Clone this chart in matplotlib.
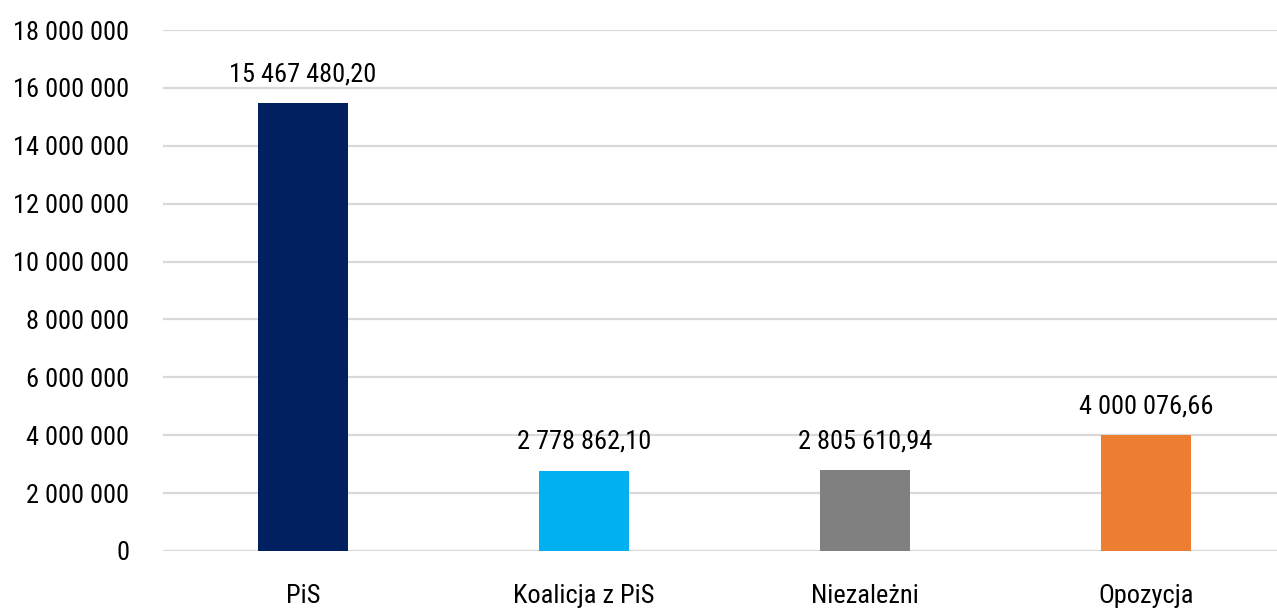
import matplotlib
matplotlib.use("Agg")
import matplotlib.pyplot as plt
from matplotlib import font_manager
from matplotlib.ticker import FuncFormatter

categories = ["PiS", "Koalicja z PiS", "Niezależni", "Opozycja"]
values = [15467480.20, 2778862.10, 2805610.94, 4000076.66]
colors = ["#002060", "#00B0F0", "#808080", "#ED7D31"]
yticks = [0, 2000000, 4000000, 6000000, 8000000, 10000000,
          12000000, 14000000, 16000000, 18000000]

# szukamy fontu waskiego, jesli jest
names = set(f.name for f in font_manager.fontManager.ttflist)
font = "Roboto"
for cand in ["Roboto Condensed", "Liberation Sans Narrow", "DejaVu Sans Condensed"]:
    if cand in names:
        font = cand
        break
plt.rcParams["font.family"] = [font, "DejaVu Sans"]


def fmt_int(v, pos=None):
    return "{:,.0f}".format(v).replace(",", " ")


def fmt_val(v):
    return "{:,.2f}".format(v).replace(",", " ").replace(".", ",")


fig = plt.figure(figsize=(12.77, 6.11), dpi=100)
ax = fig.add_axes([162.5 / 1277, 60 / 611, 1124 / 1277, 521 / 611])

x = range(len(categories))
bars = ax.bar(x, values, width=0.32, color=colors, zorder=3)
for b, v in zip(bars, values):
    ax.annotate(fmt_val(v), (b.get_x() + b.get_width() / 2, v),
                xytext=(0, 12), textcoords="offset points",
                ha="center", va="bottom", fontsize=19, color="#000000")

ax.set_xlim(-0.5, 3.5)
ax.set_ylim(0, 18000000)
ax.set_yticks(yticks)
ax.yaxis.set_major_formatter(FuncFormatter(fmt_int))
ax.set_xticks(list(x))
ax.set_xticklabels(categories)
ax.tick_params(axis="y", length=0, pad=24, labelsize=19)
ax.tick_params(axis="x", length=0, pad=24, labelsize=19)
ax.grid(axis="y", color="#d9d9d9", linewidth=1.6, zorder=0)
for s in ax.spines.values():
    s.set_visible(False)

fig.savefig("out.png", dpi=100)
